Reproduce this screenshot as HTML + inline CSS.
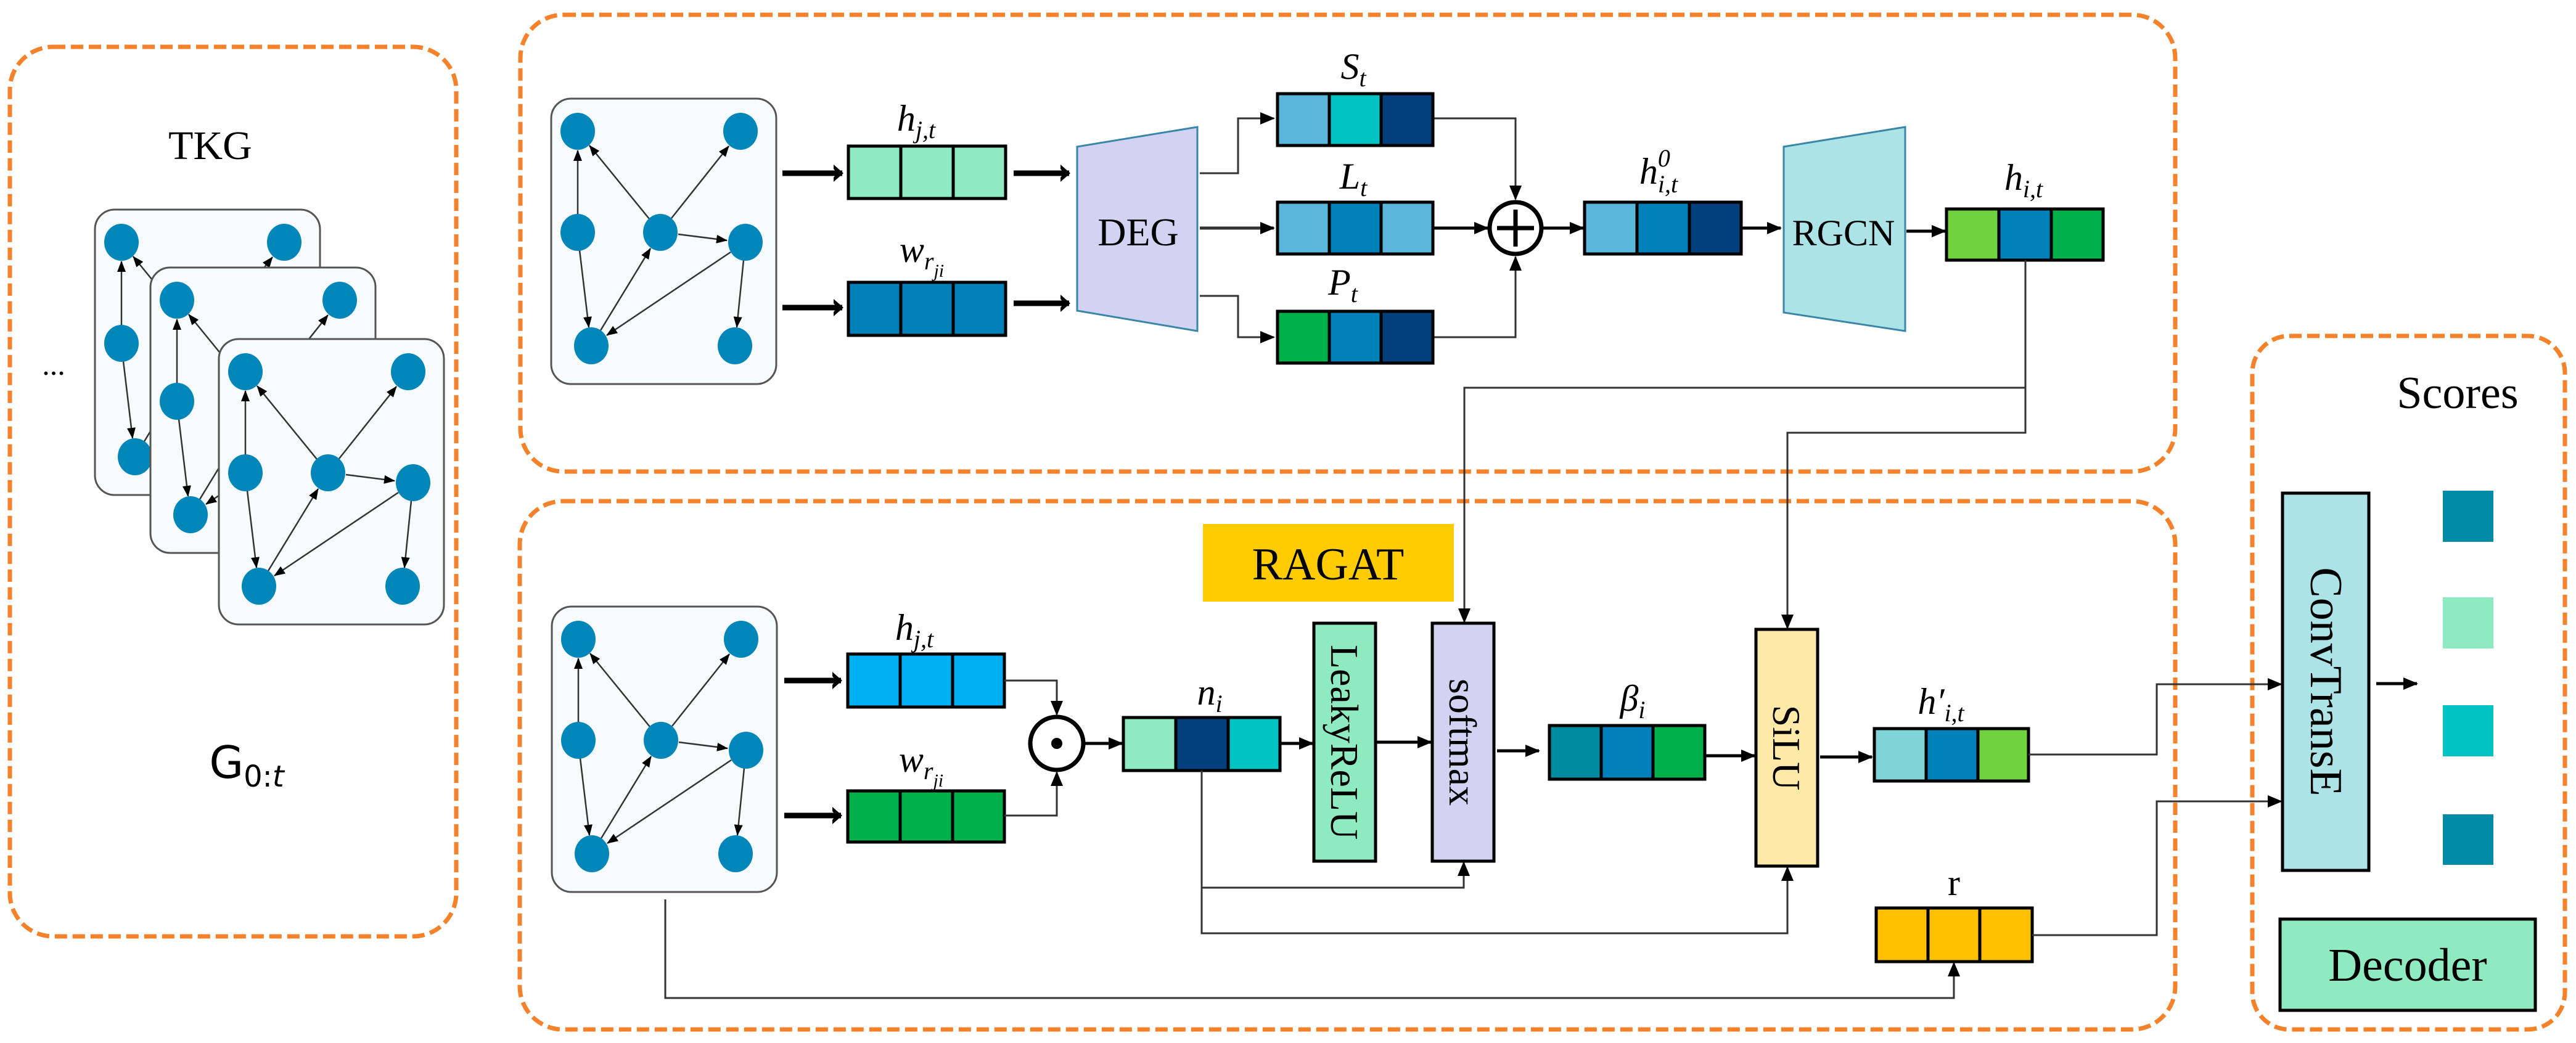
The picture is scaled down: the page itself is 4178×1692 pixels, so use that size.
<!DOCTYPE html>
<html><head><meta charset="utf-8"><style>html,body{margin:0;padding:0;background:#fff}svg{display:block}</style></head><body>
<svg width="4178" height="1692" viewBox="0 0 4178 1692" xmlns="http://www.w3.org/2000/svg" font-family="'Liberation Serif', serif">
<defs>
<marker id="a" markerUnits="userSpaceOnUse" markerWidth="24" markerHeight="20" refX="22" refY="10" orient="auto"><path d="M0,0 L24,10 L0,20 Z" fill="#000"/></marker>
<marker id="s" markerUnits="userSpaceOnUse" markerWidth="18" markerHeight="14" refX="17" refY="7" orient="auto"><path d="M0,0 L18,7 L0,14 Z" fill="#000"/></marker>
<marker id="t" markerUnits="userSpaceOnUse" markerWidth="30" markerHeight="30" refX="14" refY="15" orient="auto"><path d="M0,1 L16,15 L0,29 L0,22 L6,15 L0,8Z" fill="#000"/></marker>
<g id="gr">
<rect x="0" y="0" width="365" height="463" rx="32" fill="#f7fbfd" stroke="#555" stroke-width="3"/>
<g stroke="#333" stroke-width="2.5" marker-end="url(#s)">
<line x1="43" y1="188" x2="43" y2="84"/>
<line x1="159" y1="195" x2="62" y2="76"/>
<line x1="195" y1="194" x2="288" y2="77"/>
<line x1="206" y1="220" x2="285" y2="230"/>
<line x1="46" y1="246" x2="61" y2="371"/>
<line x1="80" y1="376" x2="161" y2="243"/>
<line x1="291" y1="249" x2="90" y2="384"/>
<line x1="312" y1="262" x2="301" y2="371"/>
</g>
<g fill="#0086b8">
<ellipse cx="43" cy="53" rx="28" ry="30"/><ellipse cx="307" cy="53" rx="28" ry="30"/>
<ellipse cx="43" cy="217" rx="28" ry="30"/><ellipse cx="177" cy="217" rx="28" ry="30"/>
<ellipse cx="315" cy="233" rx="28" ry="30"/><ellipse cx="65" cy="401" rx="28" ry="30"/>
<ellipse cx="298" cy="401" rx="28" ry="30"/>
</g>
</g>
</defs>

<g fill="none" stroke="#f5822a" stroke-width="7" stroke-dasharray="20,9">
<rect x="16" y="76" width="724" height="1443" rx="70"/>
<rect x="844" y="24" width="2684" height="741" rx="70"/>
<rect x="843" y="813" width="2685" height="857" rx="70"/>
<rect x="3653" y="545" width="507" height="1125" rx="60"/>
</g>

<text x="341" y="258" font-size="66" text-anchor="middle">TKG</text>
<use href="#gr" x="154" y="340"/>
<use href="#gr" x="244" y="434"/>
<use href="#gr" x="355" y="550"/>
<text x="87" y="608" font-size="50" text-anchor="middle">...</text>
<text x="400" y="1262" font-size="72" text-anchor="middle" font-family="'DejaVu Sans', sans-serif">G<tspan font-size="48" dy="14">0:<tspan font-style="italic">t</tspan></tspan></text>

<use href="#gr" x="894" y="160"/>
<g stroke="#000" stroke-width="9" marker-end="url(#t)" fill="none">
<line x1="1269" y1="281" x2="1366" y2="281"/>
<line x1="1269" y1="499" x2="1366" y2="499"/>
<line x1="1644" y1="281" x2="1734" y2="281"/>
<line x1="1644" y1="492" x2="1734" y2="492"/>
</g>
<g stroke="#000" stroke-width="5">
<rect x="1376" y="237" width="85" height="85" fill="#8eeac0"/><rect x="1461" y="237" width="85" height="85" fill="#8eeac0"/><rect x="1546" y="237" width="85" height="85" fill="#8eeac0"/>
<rect x="1376" y="458" width="85" height="86" fill="#0080b8"/><rect x="1461" y="458" width="85" height="86" fill="#0080b8"/><rect x="1546" y="458" width="85" height="86" fill="#0080b8"/>
</g>
<text x="1486" y="212" font-size="60" font-style="italic" text-anchor="middle">h<tspan font-size="40" dy="12">j,t</tspan></text>
<text x="1495" y="425" font-size="60" font-style="italic" text-anchor="middle">w<tspan font-size="40" dy="12">r</tspan><tspan font-size="30" dy="12">ji</tspan></text>

<polygon points="1747,238 1942,206 1942,537 1747,504" fill="#d2d2f2" stroke="#3a86a8" stroke-width="3"/>
<text x="1846" y="398" font-size="64" text-anchor="middle">DEG</text>

<g stroke="#333" stroke-width="3" fill="none">
<polyline points="1946,281 2008,281 2008,192 2066,192" marker-end="url(#a)"/>
<polyline points="1946,370 2066,370" marker-end="url(#a)" stroke-width="5"/>
<polyline points="1946,480 2008,480 2008,547 2066,547" marker-end="url(#a)"/>
<polyline points="2324,192 2458,192 2458,323" marker-end="url(#a)"/>
<polyline points="2324,547 2458,547 2458,417" marker-end="url(#a)"/>
</g>
<g stroke="#000" stroke-width="5" fill="none" marker-end="url(#a)">
<line x1="2324" y1="370" x2="2413" y2="370"/>
<line x1="2502" y1="370" x2="2568" y2="370"/>
<line x1="2824" y1="370" x2="2888" y2="370"/>
<line x1="3092" y1="375" x2="3155" y2="375"/>
</g>
<g stroke="#000" stroke-width="5">
<rect x="2072" y="152" width="84" height="84" fill="#5ab6da"/><rect x="2156" y="152" width="84" height="84" fill="#00c4c4"/><rect x="2240" y="152" width="84" height="84" fill="#023f7c"/>
<rect x="2072" y="328" width="84" height="84" fill="#5ab6da"/><rect x="2156" y="328" width="84" height="84" fill="#0080b8"/><rect x="2240" y="328" width="84" height="84" fill="#5ab6da"/>
<rect x="2072" y="505" width="84" height="84" fill="#00b04a"/><rect x="2156" y="505" width="84" height="84" fill="#0080b8"/><rect x="2240" y="505" width="84" height="84" fill="#023f7c"/>
<rect x="2570" y="328" width="85" height="84" fill="#5ab6da"/><rect x="2655" y="328" width="85" height="84" fill="#0080b8"/><rect x="2740" y="328" width="84" height="84" fill="#023f7c"/>
<rect x="3157" y="339" width="85" height="83" fill="#6fd23e"/><rect x="3242" y="339" width="85" height="83" fill="#0080b8"/><rect x="3327" y="339" width="84" height="83" fill="#00b04a"/>
</g>
<text x="2195" y="128" font-size="60" font-style="italic" text-anchor="middle">S<tspan font-size="40" dy="12">t</tspan></text>
<text x="2195" y="306" font-size="60" font-style="italic" text-anchor="middle">L<tspan font-size="40" dy="12">t</tspan></text>
<text x="2178" y="478" font-size="60" font-style="italic" text-anchor="middle">P<tspan font-size="40" dy="12">t</tspan></text>
<text x="2690" y="298" font-size="60" font-style="italic" text-anchor="middle">h<tspan font-size="40" dy="-28">0</tspan><tspan font-size="40" dx="-20" dy="42">i,t</tspan></text>
<text x="3282" y="308" font-size="60" font-style="italic" text-anchor="middle">h<tspan font-size="40" dy="12">i,t</tspan></text>
<circle cx="2458" cy="370" r="42" fill="#fff" stroke="#000" stroke-width="7"/>
<line x1="2428" y1="370" x2="2488" y2="370" stroke="#000" stroke-width="7"/>
<line x1="2458" y1="340" x2="2458" y2="400" stroke="#000" stroke-width="7"/>

<polygon points="2893,238 3090,206 3090,537 2893,507" fill="#ace3e6" stroke="#3a86a8" stroke-width="3"/>
<text x="2990" y="398" font-size="60" text-anchor="middle">RGCN</text>

<g stroke="#333" stroke-width="3" fill="none">
<polyline points="3285,422 3285,629 2375,629 2375,1009" marker-end="url(#a)"/>
<polyline points="3285,629 3285,702 2899,702 2899,1019" marker-end="url(#a)"/>
</g>

<rect x="1951" y="850" width="407" height="126" fill="#ffcc00"/>
<text x="2154" y="940" font-size="74" text-anchor="middle">RAGAT</text>
<use href="#gr" x="895" y="984"/>
<g stroke="#000" stroke-width="9" marker-end="url(#t)" fill="none">
<line x1="1272" y1="1104" x2="1364" y2="1104"/>
<line x1="1272" y1="1323" x2="1364" y2="1323"/>
</g>
<g stroke="#000" stroke-width="5">
<rect x="1375" y="1061" width="85" height="86" fill="#00b0f0"/><rect x="1460" y="1061" width="85" height="86" fill="#00b0f0"/><rect x="1545" y="1061" width="84" height="86" fill="#00b0f0"/>
<rect x="1375" y="1283" width="85" height="83" fill="#00b04a"/><rect x="1460" y="1283" width="85" height="83" fill="#00b04a"/><rect x="1545" y="1283" width="84" height="83" fill="#00b04a"/>
<rect x="1822" y="1164" width="85" height="86" fill="#8eeac0"/><rect x="1907" y="1164" width="85" height="86" fill="#023f7c"/><rect x="1992" y="1164" width="84" height="86" fill="#00c4c4"/>
<rect x="2513" y="1177" width="84" height="87" fill="#008a9f"/><rect x="2597" y="1177" width="84" height="87" fill="#0080b8"/><rect x="2681" y="1177" width="84" height="87" fill="#00b04a"/>
<rect x="3040" y="1182" width="84" height="85" fill="#80d4d8"/><rect x="3124" y="1182" width="84" height="85" fill="#0080b8"/><rect x="3208" y="1182" width="82" height="85" fill="#6fd23e"/>
<rect x="3043" y="1473" width="84" height="87" fill="#ffc000"/><rect x="3127" y="1473" width="84" height="87" fill="#ffc000"/><rect x="3211" y="1473" width="85" height="87" fill="#ffc000"/>
</g>
<text x="1483" y="1038" font-size="60" font-style="italic" text-anchor="middle">h<tspan font-size="40" dy="12">j,t</tspan></text>
<text x="1494" y="1252" font-size="60" font-style="italic" text-anchor="middle">w<tspan font-size="40" dy="12">r</tspan><tspan font-size="30" dy="12">ji</tspan></text>
<text x="1962" y="1143" font-size="60" font-style="italic" text-anchor="middle">n<tspan font-size="40" dy="12">i</tspan></text>
<text x="2648" y="1153" font-size="60" font-style="italic" text-anchor="middle">β<tspan font-size="40" dy="12">i</tspan></text>
<text x="3148" y="1158" font-size="60" font-style="italic" text-anchor="middle">h′<tspan font-size="40" dy="12">i,t</tspan></text>
<text x="3169" y="1452" font-size="60" text-anchor="middle">r</text>

<g stroke="#333" stroke-width="3" fill="none">
<polyline points="1629,1104 1714,1104 1714,1159" marker-end="url(#a)"/>
<polyline points="1629,1323 1714,1323 1714,1253" marker-end="url(#a)"/>
<polyline points="1949,1250 1949,1440 2374,1440 2374,1399" marker-end="url(#a)"/>
<polyline points="1949,1440 1949,1514 2899,1514 2899,1407" marker-end="url(#a)"/>
<polyline points="1079,1459 1079,1619 3169,1619 3169,1562" marker-end="url(#a)"/>
<polyline points="3290,1224 3498,1224 3498,1110 3700,1110" marker-end="url(#a)"/>
<polyline points="3296,1517 3498,1517 3498,1300 3700,1300" marker-end="url(#a)"/>
</g>
<g stroke="#000" stroke-width="5" fill="none" marker-end="url(#a)">
<line x1="1760" y1="1206" x2="1820" y2="1206"/>
<line x1="2076" y1="1206" x2="2129" y2="1206"/>
<line x1="2231" y1="1204" x2="2321" y2="1204"/>
<line x1="2428" y1="1218" x2="2496" y2="1218"/>
<line x1="2765" y1="1226" x2="2846" y2="1226"/>
<line x1="2952" y1="1228" x2="3036" y2="1228"/>
<line x1="3854" y1="1109" x2="3920" y2="1109"/>
</g>
<circle cx="1714" cy="1206" r="43" fill="#fff" stroke="#000" stroke-width="7"/>
<circle cx="1714" cy="1206" r="9" fill="#000"/>

<rect x="2131" y="1011" width="100" height="386" fill="#8eeac0" stroke="#000" stroke-width="5"/>
<text transform="translate(2181,1204) rotate(90)" font-size="64" text-anchor="middle" dy="22">LeakyReLU</text>
<rect x="2323" y="1011" width="100" height="386" fill="#d2d2f2" stroke="#000" stroke-width="5"/>
<text transform="translate(2373,1204) rotate(90)" font-size="64" text-anchor="middle" dy="22">softmax</text>
<rect x="2848" y="1021" width="100" height="384" fill="#ffe9a8" stroke="#000" stroke-width="5"/>
<text transform="translate(2898,1213) rotate(90)" font-size="64" text-anchor="middle" dy="22">SiLU</text>

<text x="3986" y="662" font-size="74" text-anchor="middle">Scores</text>
<rect x="3702" y="800" width="140" height="612" fill="#ace3e6" stroke="#000" stroke-width="5"/>
<text transform="translate(3772,1106) rotate(90)" font-size="74" text-anchor="middle" dy="24">ConvTransE</text>
<rect x="3962" y="796" width="82" height="83" fill="#008aa6"/>
<rect x="3962" y="969" width="82" height="83" fill="#8eeac0"/>
<rect x="3962" y="1144" width="82" height="83" fill="#00c4c4"/>
<rect x="3962" y="1321" width="82" height="82" fill="#008aa6"/>
<rect x="3698" y="1491" width="414" height="148" fill="#8eeac0" stroke="#000" stroke-width="5"/>
<text x="3905" y="1591" font-size="76" text-anchor="middle">Decoder</text>
</svg>
</body></html>
